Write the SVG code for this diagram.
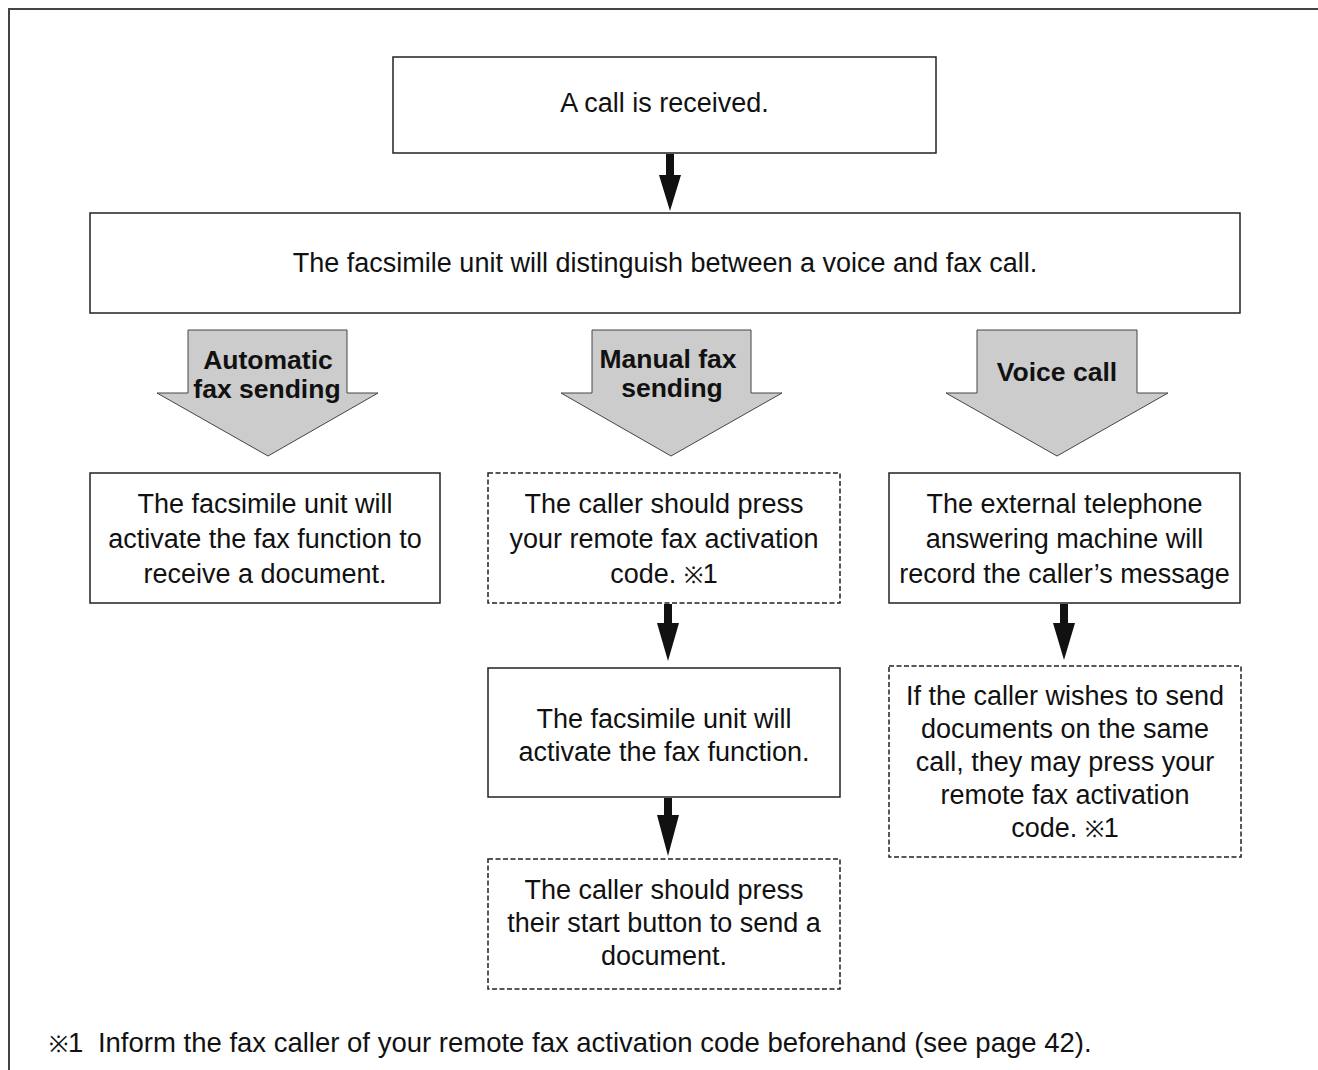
<svg xmlns="http://www.w3.org/2000/svg" width="1318" height="1070" viewBox="0 0 1318 1070">
<style>
.box{fill:#fff;stroke:#222;stroke-width:1.5}
.dash{fill:#fff;stroke:#222;stroke-width:1.5;stroke-dasharray:5 2.5}
.big{fill:#cccccc;stroke:#444;stroke-width:1}
.t{font-family:"Liberation Sans",Arial,sans-serif;font-size:27px;fill:#111;text-anchor:middle}
.b{font-family:"Liberation Sans",Arial,sans-serif;font-size:26.5px;font-weight:bold;fill:#111;text-anchor:middle}
.k{font-size:23px}
.conn{fill:#111;stroke:none}
</style>
<rect x="9" y="9" width="1320" height="1080" fill="none" stroke="#444" stroke-width="2"/>

<g id="n-received">
<rect class="box" x="393" y="57" width="543" height="96"/>
<text class="t" x="664.5" y="112">A call is received.</text>
</g>

<g id="n-distinguish">
<rect class="box" x="90" y="213" width="1150" height="100"/>
<text class="t" x="665" y="272">The facsimile unit will distinguish between a voice and fax call.</text>
</g>

<g id="n-auto-arrow">
<polygon class="big" points="188,330 347,330 347,393 378,393 268,456 157,393 188,393"/>
<text class="b" x="268" y="369">Automatic</text>
<text class="b" x="267" y="398">fax sending</text>
</g>

<g id="n-manual-arrow">
<polygon class="big" points="592,330 751,330 751,393 782,393 671,456 561,393 592,393"/>
<text class="b" x="668" y="368">Manual fax</text>
<text class="b" x="672" y="397">sending</text>
</g>

<g id="n-voice-arrow">
<polygon class="big" points="977,330 1137,330 1137,393 1168,393 1057,456 946,393 977,393"/>
<text class="b" x="1057" y="381">Voice call</text>
</g>

<g id="n-auto-receive">
<rect class="box" x="90" y="473" width="350" height="130"/>
<text class="t" x="265" y="513">The facsimile unit will</text>
<text class="t" x="265" y="548">activate the fax function to</text>
<text class="t" x="265" y="583">receive a document.</text>
</g>

<g id="n-manual-press">
<rect class="dash" x="488" y="473" width="352" height="130"/>
<text class="t" x="664" y="513">The caller should press</text>
<text class="t" x="664" y="548">your remote fax activation</text>
<text class="t" x="664" y="583">code. <tspan class="k">※</tspan>1</text>
</g>

<g id="n-voice-record">
<rect class="box" x="889" y="473" width="351" height="130"/>
<text class="t" x="1064.5" y="513">The external telephone</text>
<text class="t" x="1064.5" y="548">answering machine will</text>
<text class="t" x="1064.5" y="583">record the caller’s message</text>
</g>

<g id="n-manual-activate">
<rect class="box" x="488" y="668" width="352" height="129"/>
<text class="t" x="664" y="728">The facsimile unit will</text>
<text class="t" x="664" y="761">activate the fax function.</text>
</g>

<g id="n-manual-start">
<rect class="dash" x="488" y="859" width="352" height="130"/>
<text class="t" x="664" y="899">The caller should press</text>
<text class="t" x="664" y="932">their start button to send a</text>
<text class="t" x="664" y="965">document.</text>
</g>

<g id="n-voice-send">
<rect class="dash" x="889" y="666" width="352" height="191"/>
<text class="t" x="1065" y="705">If the caller wishes to send</text>
<text class="t" x="1065" y="738">documents on the same</text>
<text class="t" x="1065" y="771">call, they may press your</text>
<text class="t" x="1065" y="804">remote fax activation</text>
<text class="t" x="1065" y="837">code. <tspan class="k">※</tspan>1</text>
</g>

<g id="connectors">
<polygon class="conn" points="666,154 674,154 674,175 681,175 670,211 659,175 666,175"/>
<polygon class="conn" points="664,604 672,604 672,623 679,623 668,661 657,623 664,623"/>
<polygon class="conn" points="664,798 672,798 672,815 679,815 668,856 657,815 664,815"/>
<polygon class="conn" points="1060,604 1068,604 1068,623 1075,623 1064,660 1053,623 1060,623"/>
</g>

<g id="footnote">
<text font-family="'Liberation Sans',Arial,sans-serif" font-size="27.5" fill="#111" x="49" y="1052"><tspan font-size="23">※</tspan>1 <tspan dx="7">Inform the fax caller of your remote fax activation code beforehand (see page 42).</tspan></text>
</g>
</svg>
